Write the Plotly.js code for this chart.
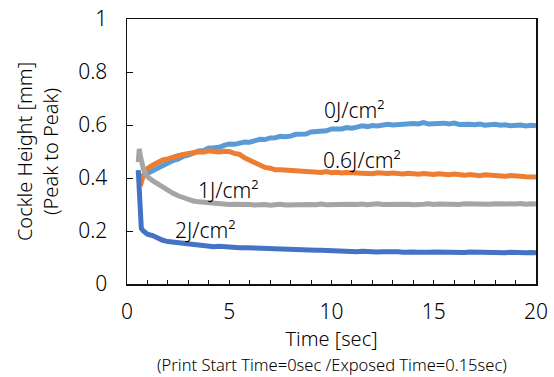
<!DOCTYPE html>
<html>
<head>
<meta charset="utf-8">
<script src="https://cdn.plot.ly/plotly-3.0.1.min.js"></script>
<style>html,body{margin:0;padding:0;background:#fff;}#chart{width:554px;height:377px;}</style>
</head>
<body>
<div id="chart"></div>
<script>
// Time axis [sec]
const time = [0.55,0.6,0.65,0.7,0.8,0.9,
  1,1.25,1.5,1.75,2,2.25,2.5,2.75,3,3.25,3.5,3.75,4,4.25,4.5,4.75,5,5.25,5.5,5.75,
  6,6.25,6.5,6.75,7,7.25,7.5,7.75,8,8.25,8.5,8.75,9,9.25,9.5,9.75,10,
  10.25,10.5,10.75,11,11.25,11.5,11.75,12,12.25,12.5,12.75,13,13.25,13.5,13.75,14,14.25,14.5,14.75,15,
  15.25,15.5,15.75,16,16.25,16.5,16.75,17,17.25,17.5,17.75,18,18.25,18.5,18.75,19,19.25,19.5,19.75,20];

// Cockle height [mm] for each exposure
const h0J = [null,null,0.40,0.408,0.41,0.414,
  0.418,0.426,0.433,0.447,0.453,0.466,0.471,0.482,0.486,0.495,
  0.502,0.504,0.513,0.514,0.516,0.523,0.528,0.527,0.531,0.536,
  0.535,0.542,0.546,0.545,0.551,0.552,0.557,0.556,0.558,0.565,
  0.567,0.566,0.574,0.575,0.578,0.578,0.585,
  0.585,0.585,0.59,0.588,0.592,0.597,0.594,0.598,0.596,0.601,
  0.603,0.6,0.602,0.601,0.606,0.606,0.604,0.609,0.604,0.606,
  0.607,0.607,0.604,0.607,0.602,0.604,0.603,0.601,0.604,0.599,
  0.602,0.603,0.599,0.601,0.597,0.599,0.6,0.596,0.599,0.597];

const h06J = [null,null,0.37,0.385,0.41,0.422,
  0.436,0.448,0.458,0.468,0.472,0.48,0.484,0.489,0.493,0.494,
  0.499,0.498,0.503,0.5,0.498,0.501,0.5,0.493,0.489,0.476,
  0.467,0.454,0.449,0.44,0.437,0.431,0.431,0.43,0.426,0.428,
  0.425,0.422,0.425,0.423,0.421,0.424,0.42,
  0.422,0.419,0.421,0.42,0.417,0.42,0.419,0.416,0.42,0.418,
  0.417,0.419,0.416,0.415,0.418,0.416,0.414,0.417,0.415,0.413,
  0.416,0.414,0.412,0.415,0.413,0.41,0.413,0.411,0.409,0.412,
  0.41,0.408,0.41,0.407,0.409,0.406,0.407,0.405,0.406,0.404];

const h1J = [0.46,0.51,0.485,0.46,0.435,0.415,
  0.405,0.39,0.377,0.365,0.352,0.342,0.333,0.325,0.318,0.313,
  0.31,0.308,0.305,0.304,0.302,0.303,0.3,0.301,0.302,0.299,
  0.3,0.298,0.301,0.3,0.297,0.299,0.301,0.298,0.299,0.3,
  0.298,0.301,0.3,0.299,0.302,0.299,0.3,
  0.301,0.299,0.302,0.301,0.3,0.302,0.299,0.301,0.303,0.3,
  0.301,0.302,0.3,0.303,0.301,0.299,0.302,0.301,0.303,0.3,
  0.302,0.301,0.303,0.302,0.3,0.303,0.302,0.301,0.304,0.302,
  0.301,0.303,0.302,0.3,0.303,0.302,0.304,0.301,0.303,0.302];

const h2J = [0.43,0.34,0.25,0.21,0.2,0.193,
  0.188,0.183,0.172,0.165,0.16,0.158,0.154,0.151,0.149,0.147,
  0.146,0.144,0.144,0.141,0.142,0.14,0.139,0.139,0.137,0.137,
  0.136,0.135,0.135,0.134,0.133,0.133,0.132,0.131,0.131,0.13,
  0.129,0.129,0.128,0.127,0.127,0.126,0.126,
  0.125,0.124,0.125,0.123,0.122,0.124,0.122,0.123,0.121,0.122,
  0.123,0.121,0.122,0.12,0.122,0.121,0.12,0.122,0.12,0.121,
  0.12,0.121,0.119,0.121,0.12,0.119,0.121,0.12,0.119,0.12,
  0.118,0.12,0.119,0.118,0.12,0.118,0.119,0.118,0.119,0.118];

const seriesNames = ['0J/cm²','0.6J/cm²','1J/cm²','2J/cm²'];
const seriesColors = ['#5B9BD5','#ED7D31','#A5A5A5','#4472C4'];
const seriesData = [h0J,h06J,h1J,h2J];

// label anchor positions (data coords)
const labelX = [11.1, 11.5, 4.95, 3.8];
const labelY = [0.655, 0.467, 0.355, 0.205];

const xTickVals = [0,5,10,15,20];
const yTickVals = [0,0.2,0.4,0.6,0.8,1];

const FONT = 'Noto Sans, Liberation Sans, sans-serif';
const W = 300;
const INK = '#000';

const traces = seriesData.map((d,i)=>({
  x: time, y: d, type:'scatter', mode:'lines', name: seriesNames[i],
  line:{color: seriesColors[i], width:5}, connectgaps:false, hoverinfo:'skip'
}));

const annotations = seriesNames.map((n,i)=>({
  x: labelX[i], y: labelY[i], xref:'x', yref:'y', text: n, showarrow:false,
  xanchor:'center', yanchor:'middle', font:{family:FONT, size:21, weight:W, color:INK}
}));
annotations.push({
  x:0.5, y:-0.304, xref:'paper', yref:'paper', showarrow:false,
  text:'(Print Start Time=0sec /Exposed Time=0.15sec)',
  xanchor:'center', yanchor:'middle', font:{family:FONT, size:16.5, weight:W, color:INK}
});

const layout = {
  width:554, height:377,
  margin:{l:127, r:18, t:19, b:93},
  paper_bgcolor:'#fff', plot_bgcolor:'#fff',
  showlegend:false,
  font:{family:FONT, color:INK, weight:W},
  xaxis:{
    range:[0,20], tickvals:xTickVals, ticks:'inside', ticklen:4, tickwidth:1, tickcolor:'#111',
    minor:{dtick:1, ticks:'inside', ticklen:4, tickwidth:1, tickcolor:'#111'},
    showline:true, mirror:true, linecolor:'#111', linewidth:1.5,
    showgrid:false, zeroline:false, ticklabelstandoff:8,
    tickfont:{family:FONT, size:21, weight:W, color:INK},
    title:{text:'Time [sec]', font:{family:FONT, size:20, weight:W, color:INK}, standoff:6}
  },
  yaxis:{
    range:[0,1], tickvals:yTickVals, ticks:'inside', ticklen:6, tickwidth:1, tickcolor:'#111',
    showline:true, mirror:true, linecolor:'#111', linewidth:1.5,
    showgrid:false, zeroline:false, ticklabelstandoff:14,
    tickfont:{family:FONT, size:21, weight:W, color:INK},
    title:{text:'Cockle Height [mm]<br>(Peak to Peak)', font:{family:FONT, size:20, weight:W, color:INK}, standoff:14}
  },
  annotations: annotations
};

Plotly.newPlot('chart', traces, layout, {staticPlot:true, displayModeBar:false});
</script>
</body>
</html>
